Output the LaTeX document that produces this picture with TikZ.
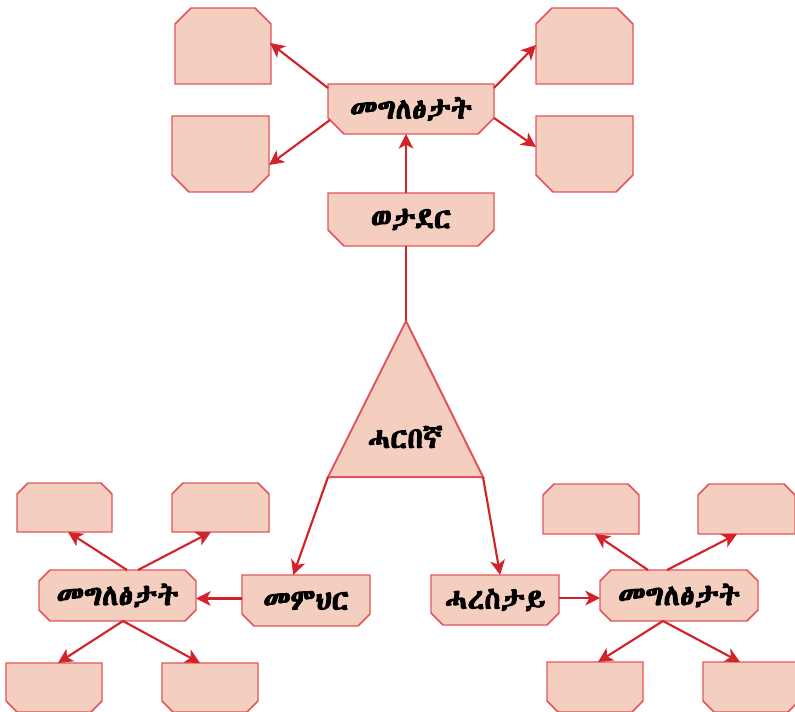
\documentclass[tikz,border=0pt]{standalone}
\usepackage{fontspec}
\newfontfamily\eth{Abyssinica SIL}[FakeBold=3]
\usetikzlibrary{arrows.meta,calc,backgrounds}
\definecolor{boxfill}{HTML}{F4CFC0}
\definecolor{boxline}{HTML}{E0555B}
\definecolor{arrowred}{HTML}{D2232A}
\tikzset{
  shp/.style={draw=boxline,fill=boxfill,line width=1.1pt,line join=miter},
  nbox/.style={rectangle,inner sep=0pt,outer sep=0pt,font=\eth\fontsize{22}{24}\selectfont},
  arr/.style={draw=arrowred,line width=1.6pt,-{Stealth[length=11pt,width=11pt,inset=3pt]}},
  plain/.style={draw=arrowred,line width=1.6pt},
}
\newcommand\chamB[2]{\path[shp] (#1.north west) -- (#1.north east) -- ($(#1.south east)+(0,-#2)$) -- ($(#1.south east)+(-#2,0)$) -- ($(#1.south west)+(#2,0)$) -- ($(#1.south west)+(0,-#2)$) -- cycle;}
\newcommand\chamT[2]{\path[shp] (#1.south west) -- (#1.south east) -- ($(#1.north east)+(0,#2)$) -- ($(#1.north east)+(-#2,0)$) -- ($(#1.north west)+(#2,0)$) -- ($(#1.north west)+(0,#2)$) -- cycle;}
\newcommand\chamA[2]{\path[shp] ($(#1.north west)+(#2,0)$) -- ($(#1.north east)+(-#2,0)$) -- ($(#1.north east)+(0,#2)$) -- ($(#1.south east)+(0,-#2)$) -- ($(#1.south east)+(-#2,0)$) -- ($(#1.south west)+(#2,0)$) -- ($(#1.south west)+(0,-#2)$) -- ($(#1.north west)+(0,#2)$) -- cycle;}
\begin{document}
\begin{tikzpicture}[x=0.75pt,y=-0.75pt]
\useasboundingbox (0,0) rectangle (795,712);
% top group
\node[nbox,minimum width=166*0.75pt,minimum height=50*0.75pt] (g1) at (411,109) {መግለፅታት};
\node[nbox,minimum width=96*0.75pt,minimum height=76*0.75pt] (t1a) at (223,46) {};
\node[nbox,minimum width=97*0.75pt,minimum height=76*0.75pt] (t1b) at (220.5,154) {};
\node[nbox,minimum width=97*0.75pt,minimum height=76*0.75pt] (t1c) at (584.5,46) {};
\node[nbox,minimum width=97*0.75pt,minimum height=76*0.75pt] (t1d) at (584.5,154) {};
\node[nbox,minimum width=166*0.75pt,minimum height=53*0.75pt] (sold) at (411,219.5) {ወታደር};
% triangle
\coordinate (apex) at (406,321);
\coordinate (bl) at (328,477);
\coordinate (br) at (483,477);
\node[nbox] (hero) at (405,437) {ሓርበኛ};
% bottom left group
\node[nbox,minimum width=128*0.75pt,minimum height=51*0.75pt] (memhir) at (306,600.5) {መምህር};
\node[nbox,minimum width=157*0.75pt,minimum height=51*0.75pt] (g2) at (117.5,595.5) {መግለፅታት};
\node[nbox,minimum width=95*0.75pt,minimum height=49*0.75pt] (la) at (64.5,507.5) {};
\node[nbox,minimum width=97*0.75pt,minimum height=49*0.75pt] (lb) at (220.5,507.5) {};
\node[nbox,minimum width=96*0.75pt,minimum height=49*0.75pt] (lc) at (54,687.5) {};
\node[nbox,minimum width=96*0.75pt,minimum height=49*0.75pt] (ld) at (210,687.5) {};
% bottom right group
\node[nbox,minimum width=128*0.75pt,minimum height=50*0.75pt] (harestay) at (495,600) {ሓረስታይ};
\node[nbox,minimum width=158*0.75pt,minimum height=51*0.75pt] (g3) at (679,595.5) {መግለፅታት};
\node[nbox,minimum width=96*0.75pt,minimum height=50*0.75pt] (ra) at (591,509) {};
\node[nbox,minimum width=97*0.75pt,minimum height=50*0.75pt] (rb) at (746.5,509) {};
\node[nbox,minimum width=96*0.75pt,minimum height=50*0.75pt] (rc) at (595,687) {};
\node[nbox,minimum width=96*0.75pt,minimum height=50*0.75pt] (rd) at (751,687) {};
\begin{scope}[on background layer]
\chamB{g1}{16}
\chamT{t1a}{16}
\chamB{t1b}{17}
\chamT{t1c}{16}
\chamB{t1d}{17}
\chamB{sold}{16}
\path[shp,line width=1.5pt] (apex) -- (br) -- (bl) -- cycle;
\chamB{memhir}{12}
\chamA{g2}{11}
\chamT{la}{11}
\chamT{lb}{11}
\chamB{lc}{11}
\chamB{ld}{11}
\chamB{harestay}{12}
\chamA{g3}{11}
\chamT{ra}{11}
\chamT{rb}{11}
\chamB{rc}{11}
\chamB{rd}{11}
\end{scope}
% connectors
\draw[arr] ($(g1.north west)+(0,4)$) -- ($(t1a.east)+(-1,-3)$);
\draw[arr] ($(g1.west)+(2,11)$) -- ($(t1b.east)+(0,11)$);
\draw[arr] ($(g1.north east)+(0,4)$) -- ($(t1c.west)+(0,-1)$);
\draw[arr] ($(g1.east)+(0,9)$) -- ($(t1d.west)+(0,-7)$);
\draw[arr] (sold.north -| apex) -- (g1.south -| apex);
\draw[plain] (sold.south -| apex) -- (apex);
\draw[arr] (bl) -- ($(memhir.north west)!0.4!(memhir.north east)$);
\draw[arr] (br) -- ($(harestay.north west)!0.54!(harestay.north east)$);
\draw[arr] ($(memhir.west)+(0,-2)$) -- ($(g2.east |- memhir.west)+(0,-2)$);
\draw[arr] ($(harestay.east)+(0,-2)$) -- ($(g3.west |- harestay.east)+(0,-2)$);
\draw[arr] ($(g2.north)+(9.5,0)$) -- ($(la.south)+(3.5,0)$);
\draw[arr] ($(g2.north)+(20.5,0)$) -- ($(lb.south)+(-9.5,0)$);
\draw[arr] ($(g2.south)+(5.5,0)$) -- ($(lc.north)+(4,0)$);
\draw[arr] ($(g2.south)+(5.5,0)$) -- ($(ld.north)+(-10,0)$);
\draw[arr] ($(g3.north)+(-31,0)$) -- ($(ra.south)+(4,0)$);
\draw[arr] ($(g3.north)+(-12,0)$) -- ($(rb.south)+(-9.5,0)$);
\draw[arr] ($(g3.south)+(-16,0)$) -- ($(rc.north)+(3,0)$);
\draw[arr] ($(g3.south)+(-16,0)$) -- ($(rd.north)+(-11,0)$);
\end{tikzpicture}
\end{document}
